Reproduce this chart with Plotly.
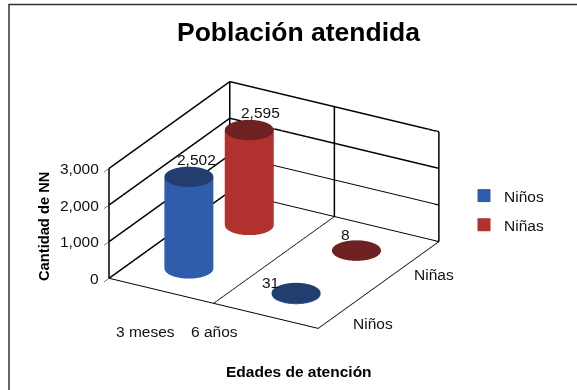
import numpy as np
import plotly.graph_objects as go

W, H = 577, 390
categories = ["3 meses", "6 años"]
series_names = ["Niños", "Niñas"]
ninos = [2502, 31]
ninas = [2595, 8]
z_ticks = [0, 1000, 2000, 3000]
x_slots = [-0.025, 1.0]
x_edges = [-0.5, 0.5, 1.5]
y_edges = [-0.5, 1.5]
side_colors = ["#2f5dab", "#b0312e"]
cap_colors = ["#223e6e", "#6f2020"]
RADIUS = 0.203
FONT = "Liberation Sans"
LABEL = 15.5


def px(x, y):
    return x / W, 1 - y / H


def cylinder(cx, cy, h, r=RADIUS, n=72):
    t = np.linspace(0, 2 * np.pi, n, endpoint=False)
    xs, ys = cx + r * np.cos(t), cy + r * np.sin(t)
    X = np.r_[xs, xs, cx]
    Y = np.r_[ys, ys, cy]
    Z = np.r_[np.zeros(n), np.full(n, h), h]
    a = np.arange(n)
    nx = (a + 1) % n
    si = np.r_[a, a]
    sj = np.r_[nx, nx + n]
    sk = np.r_[nx + n, a + n]
    ci, cj, ck = a + n, nx + n, np.full(n, 2 * n)
    return X, Y, Z, (si, sj, sk), (ci, cj, ck)


fig = go.Figure()
LIGHT = dict(ambient=1, diffuse=0, specular=0, roughness=1, fresnel=0)
for s, (name, vals) in enumerate(zip(series_names, [ninos, ninas])):
    for c, v in enumerate(vals):
        X, Y, Z, (si, sj, sk), (ci, cj, ck) = cylinder(x_slots[c], s, v)
        fig.add_trace(go.Mesh3d(x=X, y=Y, z=Z, i=si, j=sj, k=sk, color=side_colors[s],
                                lighting=LIGHT, hoverinfo="skip", name=name,
                                showlegend=False))
        fig.add_trace(go.Mesh3d(x=X, y=Y, z=Z, i=ci, j=cj, k=ck, color=cap_colors[s],
                                lighting=LIGHT, hoverinfo="skip", showlegend=False))
    fig.add_trace(go.Scatter3d(x=[None], y=[None], z=[None], mode="markers", name=name,
                               legendgroup=name,
                               marker=dict(symbol="square", size=13, color=side_colors[s]),
                               hoverinfo="skip"))

# Heavier wall rules: the left and back walls, taken from the axis ticks
wx, wy, wz = [], [], []
for t in z_ticks:
    wx += [x_edges[0], x_edges[0], x_edges[-1], None]
    wy += [y_edges[0], y_edges[-1], y_edges[-1], None]
    wz += [t, t, t, None]
for ye in y_edges:
    wx += [x_edges[0], x_edges[0], None]
    wy += [ye, ye, None]
    wz += [z_ticks[0], z_ticks[-1], None]
for xe in x_edges[1:]:
    wx += [xe, xe, None]
    wy += [y_edges[-1], y_edges[-1], None]
    wz += [z_ticks[0], z_ticks[-1], None]
fig.add_trace(go.Scatter3d(x=wx, y=wy, z=wz, mode="lines", line=dict(color="#000", width=3),
                           hoverinfo="skip", showlegend=False))

ax = dict(showbackground=False, showticklabels=False, title=dict(text=""), zeroline=False,
          showspikes=False, linecolor="black", linewidth=2, gridcolor="black", gridwidth=2,
          showline=True, ticks="")
k = 1.25
SCALE = 1.61
annos = []
offsets = {(0, 0): (8, 17), (0, 1): (11, 18), (1, 0): (-26, 11), (1, 1): (-11, 16)}
for s, vals in enumerate([ninos, ninas]):
    for c, v in enumerate(vals):
        dx, dy = offsets[(c, s)]
        annos.append(dict(x=x_slots[c], y=s, z=v, text=f"{v:,}", showarrow=False, xanchor="center",
                          yanchor="middle", xshift=dx, yshift=dy,
                          font=dict(family=FONT, size=LABEL, color="#111")))
for t in z_ticks:
    annos.append(dict(x=-0.5, y=-0.5, z=t, text=f"{t:,}", showarrow=False, xanchor="right",
                      yanchor="middle", xshift=-8, font=dict(family=FONT, size=LABEL, color="#111")))


def label(text, x, y, size=LABEL, color="#111", angle=0):
    return dict(text=text, x=px(x, 0)[0], y=px(0, y)[1], xref="paper", yref="paper",
                xanchor="center", yanchor="middle", showarrow=False, textangle=angle,
                font=dict(family=FONT, size=size, color=color))


fig.update_layout(
    width=W, height=H, margin=dict(l=0, r=0, t=0, b=0), paper_bgcolor="white",
    showlegend=True,
    legend=dict(x=px(464, 0)[0], y=px(0, 179)[1], xanchor="left", yanchor="top",
                font=dict(family=FONT, size=LABEL, color="#111"), tracegroupgap=6,
                traceorder="grouped", bgcolor="rgba(0,0,0,0)"),
    scene=dict(
        domain=dict(x=[px(74, 0)[0], px(474, 0)[0]], y=[px(0, 355)[1], px(0, 55)[1]]),
        aspectmode="manual", aspectratio=dict(x=SCALE, y=SCALE, z=0.5 * SCALE),
        camera=dict(projection=dict(type="orthographic"), up=dict(x=0, y=0, z=1),
                    center=dict(x=0, y=0, z=0),
                    eye=dict(x=0.455 * k, y=-0.788 * k, z=0.415 * k)),
        xaxis=dict(ax, range=[-0.5, 1.5], tickvals=x_edges, showgrid=True),
        yaxis=dict(ax, range=[-0.5, 1.5], tickvals=y_edges, showgrid=False),
        zaxis=dict(ax, range=[0, 3000], tickvals=z_ticks, showgrid=True, ticks="outside", ticklen=4,
                   tickcolor="black"),
        annotations=annos,
    ),
    shapes=[dict(type="rect", xref="paper", yref="paper", x0=px(9, 0)[0], x1=1.02,
                 y0=-0.02, y1=px(0, 4.5)[1], line=dict(color="#333", width=1.5))],
    annotations=[
        label("<b>Población atendida</b>", 298, 32, size=26.5, color="black"),
        label("<b>Cantidad de NN</b>", 44, 227, size=14.7, color="black", angle=-90),
        label("<b>Edades de atención</b>", 299, 371, size=15.5, color="black"),
        label(categories[0], 146, 331),
        label(categories[1], 214, 331),
        label(series_names[0], 373, 323),
        label(series_names[1], 434, 274),
    ],
)
fig.write_html("out.html", config=dict(displayModeBar=False),
               post_script="document.body.style.margin='0';")
